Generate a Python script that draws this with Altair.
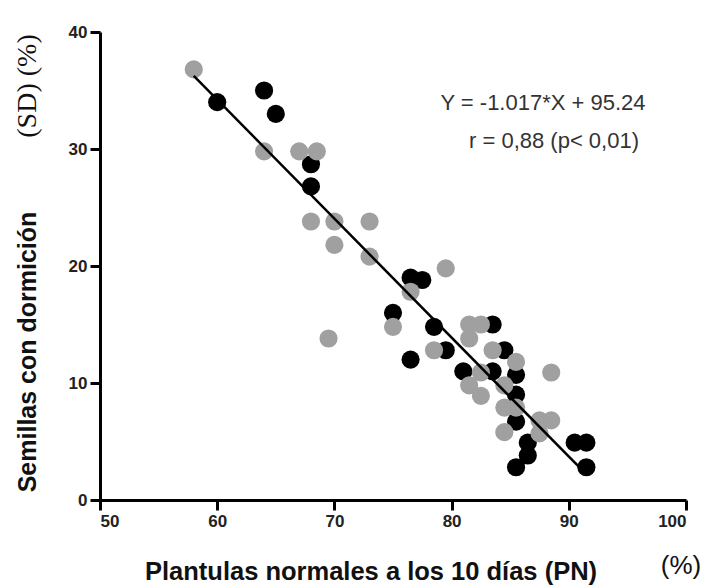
import altair as alt
import pandas as pd

# Data
black_x = [60, 64, 65, 68, 68, 75, 76.5, 77.5, 78.5, 79.5, 76.5, 83.5, 84.5, 81, 83.5, 85.5, 85.5, 85.5, 86.5, 86.5, 85.5, 90.5, 91.5, 91.5]
black_y = [34, 35, 33, 28.7, 26.8, 16, 19, 18.8, 14.8, 12.8, 12, 15, 12.8, 11, 11, 10.7, 9, 6.7, 4.9, 3.8, 2.8, 4.9, 4.9, 2.8]

gray_x = [58, 64, 67, 68.5, 68, 70, 73, 70, 73, 69.5, 75, 79.5, 76.5, 78.5, 81.5, 82.5, 81.5, 83.5, 85.5, 88.5, 82.5, 81.5, 84.5, 82.5, 84.5, 85.5, 84.5, 87.5, 88.5, 87.5]
gray_y = [36.8, 29.8, 29.8, 29.8, 23.8, 23.8, 23.8, 21.8, 20.8, 13.8, 14.8, 19.8, 17.8, 12.8, 15, 15, 13.8, 12.8, 11.8, 10.9, 10.9, 9.8, 9.8, 8.9, 7.9, 7.9, 5.8, 6.8, 6.8, 5.7]

slope = -1.017
intercept = 95.24
line_x = [58, 91]

x_ticks = [50, 60, 70, 80, 90, 100]
y_ticks = [0, 10, 20, 30, 40]

annot_line1 = "Y = -1.017*X + 95.24"
annot_line2 = "r = 0,88 (p< 0,01)"
x_title = "Plantulas normales a los 10 días (PN)"
x_title_unit = "(%)"
y_title = "Semillas con dormición"
y_title_unit = "(SD) (%)"

dfb = pd.DataFrame({"x": black_x, "y": black_y})
dfg = pd.DataFrame({"x": gray_x, "y": gray_y})
dfl = pd.DataFrame({"x": line_x, "y": [slope * v + intercept for v in line_x]})

W, H = 586, 468
L, T = 100, 32
xs = alt.Scale(domain=[50, 100], nice=False, zero=False)
ys = alt.Scale(domain=[0, 40], nice=False, zero=False)

axis_style = dict(
    title=None, grid=False,
    domainWidth=3, domainColor="#000000", tickWidth=3, tickColor="#000000",
    tickSize=10, labelFont="Liberation Sans", labelFontWeight="bold",
    labelFontSize=17, labelColor="#222222", labelPadding=3,
)
xax = alt.Axis(values=x_ticks, **axis_style)
yax = alt.Axis(values=y_ticks, **axis_style)


def enc(ch):
    return ch.encode(
        x=alt.X("x:Q", scale=xs, axis=xax),
        y=alt.Y("y:Q", scale=ys, axis=yax),
    )


pts_b = enc(alt.Chart(dfb).mark_circle(size=330, opacity=1, color="#000000"))
pts_g = enc(alt.Chart(dfg).mark_circle(size=330, opacity=1, color="#a0a0a0"))
line = enc(alt.Chart(dfl).mark_line(color="black", strokeWidth=2.5))


def label(text, px, py, size, weight="normal", font="Liberation Sans", angle=0, color="#111111"):
    # page pixel position converted to data units of the shared scales
    dx = 50 + (px - L) * 50 / W
    dy = 40 - (py - T) * 40 / H
    kw = dict(font=font, fontSize=size, fontWeight=weight, color=color,
              align="center", baseline="middle", clip=False)
    if angle:
        kw["angle"] = angle
    return enc(alt.Chart(pd.DataFrame({"t": [text], "x": [dx], "y": [dy]})).mark_text(**kw)).encode(text="t:N")


ann1 = label(annot_line1, 543, 103, 22, color="#333333")
ann2 = label(annot_line2, 554, 141, 22, color="#333333")
xt = label(x_title, 371, 572, 25.5, weight="bold")
xtu = label(x_title_unit, 681, 566, 26)
yt = label(y_title, 28, 352, 25, weight="bold", angle=270)
ytu = label(y_title_unit, 28, 86, 28, font="Liberation Serif", angle=270)

chart = alt.layer(pts_b, pts_g, line, ann1, ann2, xt, xtu, yt, ytu).properties(
    width=W, height=H,
    autosize=alt.AutoSizeParams(type="none"),
    padding={"left": L, "top": T, "right": 721 - L - W, "bottom": 587 - T - H},
).configure_view(strokeWidth=0)

chart.save("out.html", embed_options={"renderer": "svg", "actions": False})
